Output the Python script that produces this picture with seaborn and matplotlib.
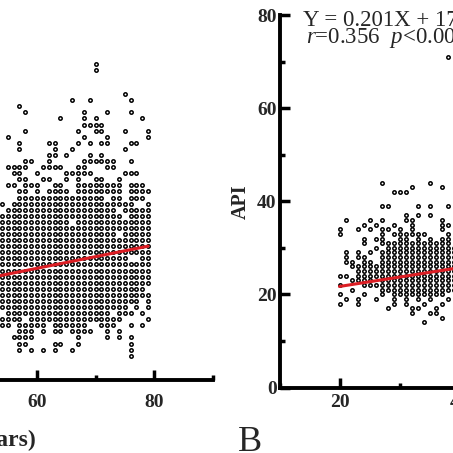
import matplotlib
matplotlib.use("Agg")
import matplotlib.pyplot as plt
import seaborn as sns
import pandas as pd
from matplotlib.ticker import MultipleLocator

# Panel A (only its right part is in view): rows of the dot grid, value -> ages present
a_values = [52, 51, 47, 46, 45, 44, 43, 42, 41, 40, 39, 38, 37, 36, 35, 34, 33, 32, 31, 30,
            29, 28, 27, 26, 25, 24, 23, 22, 21, 20, 19, 18, 17, 16, 15, 14, 13, 12, 11, 10,
            9, 8, 7, 6, 5, 4]
a_ages = ["70", "70", "75", "66,69,76", "57", "58,68,72,76", "64,68,70,78", "68-71",
          "58,67,70,71,75,79", "55,68,72,79", "57,62,63,67,69,71,72,76,77", "57,63,66,75",
          "62,63,65,69,71", "58,59,62,68-73,76", "55-58,61-64,67,68,72,73",
          "56,57,60,65-69,75-77", "57,58,61,62,65,67,70,71,74",
          "55,56,58-60,63,64,67-74,76-78", "57,58,60,62-65,67-74,76-79",
          "57-71,73,74,76-78", "54,56-76,79", "55-73,75-79", "54-74,76-79", "54-65,67-79",
          "54-79", "54-73,75-79", "54-79", "54-79", "54-79", "54-75,78,79", "54-79", "54-79",
          "54-79", "54-79", "54-78", "54-79", "54-77,79", "54-75,77,79", "55-72,74-76,78",
          "54-57,59-74,79", "54,55,57-61,63-68,71-73,76,78", "57-59,61,63,64,66-69,72,74",
          "56-59,67,72,74,76", "57,58,63,64,67,76", "57,59,61,63,66,76", "76"]
a_line_x = [20, 79]
a_line_y = [10.7, 22.0]

# Panel B: API vs age
b_values = [71, 44, 43, 42, 39, 37, 36, 35, 34, 33, 32, 31, 30, 29, 28, 27, 26, 25, 24, 23,
            22, 21, 20, 19, 18, 17, 16, 15, 14]
b_ages = ["38", "27,35", "32,37", "29-31", "27,28,33,35,38", "31,33,35", "21,25,27,31,32,37",
          "24,26,29,32,37,38", "20,23,25,27,28,30,32,37", "20,27,29-34,38",
          "24,26,27,30,31,33,35,37,38", "24,27-38", "26,28-39", "21,23,25,27-39",
          "21,23,24,27-39", "21,22,24,25,27-39", "22-39", "23-39", "20,21,23-39",
          "22-25,27-39", "20,24-39", "22,27-39", "20,24,27,29-37",
          "21,23,26,29,31,33,35,38", "20,23,29,31,34,37", "28,32,33,36", "32,35,36", "37", "34"]
b_line_x = [20, 80]
b_line_y = [21.7, 33.8]

eq_text = "Y = 0.201X + 17.71"
stat_text = r"$\mathit{r}$=0.356  $\mathit{p}$<0.001"


def expand(values, specs):
    xs, ys = [], []
    for v, spec in zip(values, specs):
        for part in spec.split(","):
            if "-" in part:
                lo, hi = part.split("-")
                ages = range(int(lo), int(hi) + 1)
            else:
                ages = [int(part)]
            for age in ages:
                xs.append(age)
                ys.append(v)
    return pd.DataFrame({"age": xs, "value": ys})


df_a = expand(a_values, a_ages)
df_b = expand(b_values, b_ages)

sns.set_style("white")
plt.rcParams["font.family"] = ["Liberation Serif", "DejaVu Serif"]
plt.rcParams["font.weight"] = "bold"
plt.rcParams["mathtext.fontset"] = "custom"
plt.rcParams["mathtext.rm"] = "Liberation Serif:weight=normal"
plt.rcParams["mathtext.it"] = "Liberation Serif:style=italic:weight=normal"

W = 453.0
fig = plt.figure(figsize=(4.53, 4.53), dpi=100)
ax_a = fig.add_axes([-255.5 / W, (W - 380) / W, 468 / W, 365 / W])
ax_b = fig.add_axes([279.5 / W, (W - 387.5) / W, 480 / W, 372.5 / W])

red = "#dc1e24"
for ax, df, lx, ly in [(ax_a, df_a, a_line_x, a_line_y), (ax_b, df_b, b_line_x, b_line_y)]:
    sns.scatterplot(data=df, x="age", y="value", ax=ax, marker="o", s=6,
                    color="white", edgecolor="black", linewidth=1.1)
    sns.lineplot(x=lx, y=ly, ax=ax, color=red, linewidth=2.2)
    ax.set_xlim(10, 90)
    ax.xaxis.set_major_locator(MultipleLocator(20))
    ax.xaxis.set_minor_locator(MultipleLocator(10))
    ax.yaxis.set_major_locator(MultipleLocator(20))
    ax.yaxis.set_minor_locator(MultipleLocator(10))
    for side in ["top", "right"]:
        ax.spines[side].set_visible(False)
    for side in ["left", "bottom"]:
        ax.spines[side].set_linewidth(2.8)
        ax.spines[side].set_color("black")
    ax.tick_params(which="both", direction="in", width=2.5, color="black",
                   bottom=True, left=True, labelsize=14)
    ax.tick_params(which="major", length=7)
    ax.tick_params(which="minor", length=3.5)
    ax.set_facecolor("white")

ax_a.set_ylim(0, 60)
ax_b.set_ylim(0, 80)
ax_a.tick_params(axis="x", pad=10)
ax_b.tick_params(axis="x", pad=4.5)
ax_b.tick_params(axis="y", pad=2)

ax_a.set_ylabel("")
ax_a.set_xlabel("Age (years)", fontsize=17, fontweight="bold")
ax_a.xaxis.label.set_va("baseline")
ax_a.xaxis.set_label_coords(0.5, -(446 - 380) / 365)

ax_b.set_xlabel("")
ax_b.set_ylabel("API", fontsize=14.5, fontweight="bold")
ax_b.yaxis.label.set_va("baseline")
ax_b.yaxis.set_label_coords((246 - 279.5) / 480, 0.5)

fig.text(303 / W, 1 - 26 / W, eq_text, fontsize=16.5, fontweight="normal", va="baseline")
fig.text(306 / W, 1 - 43 / W, stat_text, fontsize=16.5, fontweight="normal", va="baseline")
fig.text(237.5 / W, 1 - 451 / W, "B", fontsize=26, fontweight="normal", va="baseline")

fig.savefig("out.png", dpi=100)
